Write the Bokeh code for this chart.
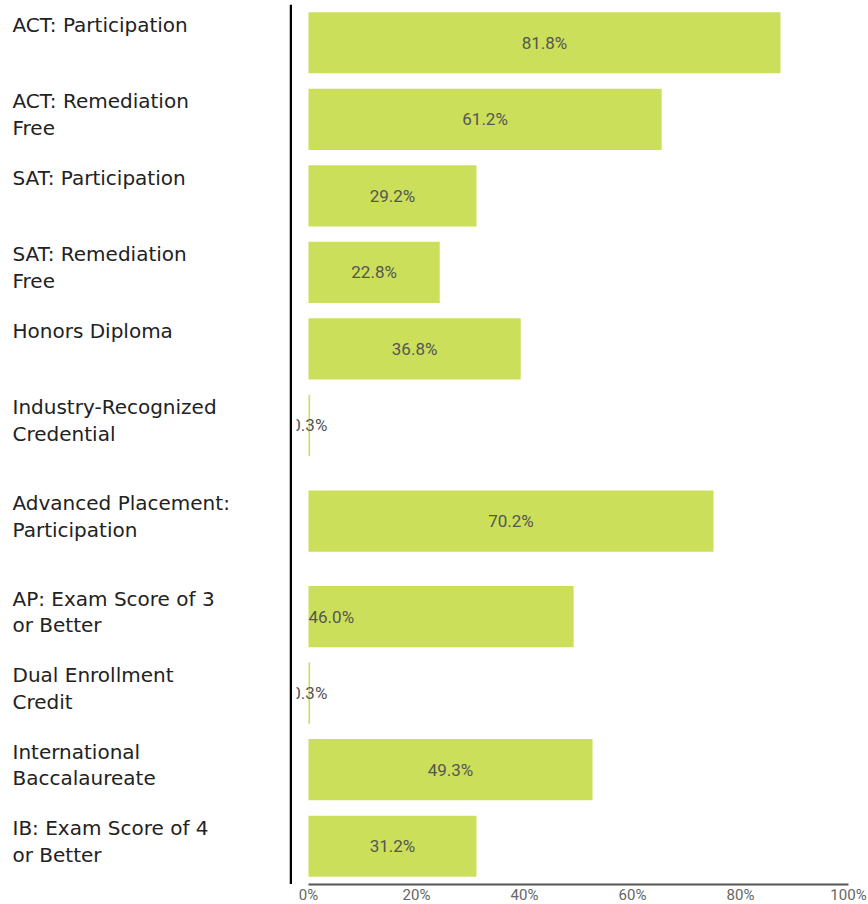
from bokeh.plotting import figure
from bokeh.layouts import row
from bokeh.models import ColumnDataSource, FactorRange, Range1d, LabelSet, FixedTicker, Span
from bokeh.core.properties import value, field
from bokeh.embed import file_html
from bokeh.resources import INLINE

# ---- data (top to bottom) ----
categories = [
    "ACT: Participation",
    "ACT: Remediation\nFree",
    "SAT: Participation",
    "SAT: Remediation\nFree",
    "Honors Diploma",
    "Industry-Recognized\nCredential",
    "Advanced Placement:\nParticipation",
    "AP: Exam Score of 3\nor Better",
    "Dual Enrollment\nCredit",
    "International\nBaccalaureate",
    "IB: Exam Score of 4\nor Better",
]
groups = ["a", "a", "a", "a", "a", "a", "b", "c", "c", "c", "c"]
bar_values = [87.4, 65.4, 31.1, 24.3, 39.3, 0.3, 75.0, 49.1, 0.3, 52.6, 31.1]
value_labels = ["81.8%", "61.2%", "29.2%", "22.8%", "36.8%", "0.3%",
                "70.2%", "46.0%", "0.3%", "49.3%", "31.2%"]
label_align = ["center", "center", "center", "center", "center", "center",
               "center", "left", "center", "center", "center"]
tick_values = [0, 20, 40, 60, 80, 100]
tick_labels = ["0%", "20%", "40%", "60%", "80%", "100%"]

# ---- layout constants (pixels) ----
W = 868
TOP = 4
FRAME_H = 880
LEFT_W = 292          # label panel width
FRAME_LEFT = 296      # where bar frame starts
ZERO_PX = 308
FULL_PX = 848
LINE_PX = 290.5
LABEL_PX = 12

px_per_unit = (FULL_PX - ZERO_PX) / 100.0

# ---- build ----
yf = [(g, c) for g, c in zip(groups, categories)]
label_x = [0 if a == "left" else v / 2 for v, a in zip(bar_values, label_align)]
src = ColumnDataSource(dict(yf=yf, name=categories, val=bar_values,
                            lab=value_labels, lx=label_x, align=label_align))

factors = list(reversed(yf))
y_range = FactorRange(factors=factors, range_padding=0, factor_padding=0,
                      group_padding=0.25)

# left panel: category labels + black vertical line
left = figure(frame_width=LEFT_W, frame_height=FRAME_H, y_range=y_range,
              x_range=Range1d(0, LEFT_W), output_backend="svg",
              toolbar_location=None, min_border=0, min_border_top=TOP)
left.outline_line_color = None
left.grid.visible = False
left.axis.visible = False
labels = LabelSet(x=LABEL_PX, y="yf", text="name", source=src,
                  text_align="left", text_baseline="top", y_offset=30,
                  text_font=value("DejaVu Sans"), text_font_size="20px",
                  text_color="#222222", text_line_height=1.11)
left.add_layout(labels)
left.add_layout(Span(location=LINE_PX, dimension="height",
                     line_color="black", line_width=2.5))

# right panel: bars
x_range = Range1d(-(ZERO_PX - FRAME_LEFT) / px_per_unit, 100)
p = figure(frame_width=FULL_PX - FRAME_LEFT, frame_height=FRAME_H,
           y_range=y_range, x_range=x_range,
           output_backend="svg", toolbar_location=None,
           min_border_left=FRAME_LEFT - LEFT_W, min_border_right=W - FULL_PX,
           min_border_top=TOP, min_border_bottom=0)
p.outline_line_color = None
p.grid.visible = False
p.yaxis.visible = False

BAR = "#cbdf5a"
p.hbar(y="yf", left=0, right="val", height=0.8, source=src,
       fill_color=BAR, line_color=None)

p.text(x="lx", y="yf", text="lab", source=src,
       text_align=field("align"), text_baseline="middle",
       text_font=value("Roboto"), text_font_size="17px", text_color="#555555")

xa = p.xaxis[0]
xa.ticker = FixedTicker(ticks=tick_values)
xa.major_label_overrides = {t: l for t, l in zip(tick_values, tick_labels)}
xa.bounds = (0, 100)
xa.axis_line_color = "#555555"
xa.axis_line_width = 2
xa.major_tick_line_color = None
xa.minor_tick_line_color = None
xa.major_tick_out = 0
xa.major_tick_in = 0
xa.major_label_text_color = "#666666"
xa.major_label_text_font = "Roboto"
xa.major_label_text_font_size = "15px"
xa.major_label_standoff = 1

layout = row(left, p, spacing=0)
open("out.html", "w").write(file_html(layout, INLINE))
